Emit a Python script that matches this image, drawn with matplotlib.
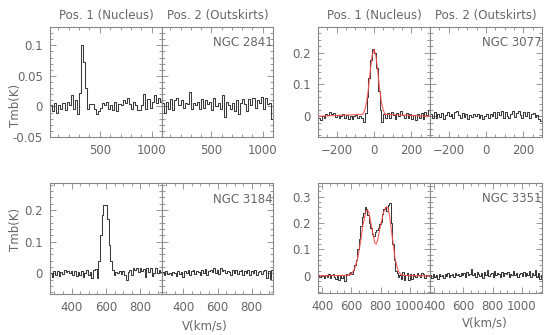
import matplotlib
matplotlib.use('Agg')
import matplotlib.pyplot as plt
import numpy as np
from matplotlib.ticker import MultipleLocator, FuncFormatter

# NGC 2841, channels 30..1090 km/s every 20
v_2841 = np.arange(30, 1091, 20)
n2841_nuc = [0.002, -0.008, 0.005, -0.010, 0.003, -0.004, 0.006, -0.006, 0.008, 0.002,
             0.018, -0.004, 0.010, -0.012, 0.022, 0.100, 0.072, 0.030, -0.005, 0.004,
             0.004, -0.004, -0.012, -0.008, -0.003, 0.006, 0.003, 0.008, -0.004, 0.002,
             -0.006, 0.008, -0.008, 0.004, 0.002, 0.010, 0.006, 0.014, 0.004, -0.004,
             0.008, 0.002, -0.006, -0.006, 0.002, 0.020, -0.004, 0.012, -0.002, 0.008,
             0.018, 0.006, 0.014, 0.008]
n2841_out = [0.005, -0.010, 0.008, -0.004, 0.012, -0.006, 0.010, 0.014, 0.002, 0.010,
             -0.002, 0.006, 0.004, 0.024, -0.004, 0.006, 0.002, 0.008, -0.004, 0.012,
             -0.002, 0.010, 0.004, 0.008, -0.006, 0.014, 0.000, 0.006, -0.004, 0.018,
             -0.018, 0.008, 0.002, -0.004, 0.006, -0.008, 0.010, -0.012, 0.006, 0.012,
             0.004, -0.008, 0.012, 0.002, 0.014, -0.002, 0.010, 0.006, 0.016, -0.004,
             0.014, 0.004, 0.006, -0.020]

# NGC 3077, channels -295..295 every 10
v_3077 = np.arange(-295, 296, 10)
n3077_nuc = [-0.004, -0.012, 0.002, -0.006, 0.008, 0.004, 0.014, 0.006, 0.010, -0.002,
             0.004, -0.006, 0.002, 0.006, -0.004, 0.004, -0.008, 0.002, -0.010, 0.000,
             0.004, -0.006, 0.002, -0.004, -0.018, 0.010, 0.060, 0.120, 0.175, 0.212,
             0.200, 0.150, 0.080, 0.020, -0.018, 0.006, -0.004, 0.010, -0.006, 0.012,
             0.004, -0.008, 0.010, 0.000, 0.018, 0.004, -0.004, 0.010, -0.006, 0.008,
             -0.010, 0.004, -0.012, 0.006, -0.004, 0.010, -0.008, 0.014, 0.004, 0.020]
n3077_out = [0.008, -0.004, 0.012, -0.006, 0.006, -0.002, 0.010, -0.008, 0.004, 0.014,
             0.002, 0.008, -0.004, 0.012, 0.018, 0.004, -0.006, 0.010, -0.002, 0.006,
             -0.010, 0.004, -0.002, 0.008, 0.000, 0.006, -0.006, 0.004, -0.008, 0.002,
             0.006, -0.004, 0.008, 0.002, 0.012, -0.004, 0.014, 0.004, 0.016, -0.006,
             0.012, 0.002, -0.004, 0.008, 0.016, -0.002, 0.010, 0.018, 0.004, -0.004,
             0.012, 0.002, 0.014, -0.006, 0.006, 0.010, -0.002, 0.004, -0.008, -0.014]
fit3077_v = [-300, -60, -50, -40, -30, -20, -10, 0, 10, 20, 30, 40, 50, 60, 300]
fit3077_t = [0.0, 0.006, 0.018, 0.043, 0.086, 0.142, 0.190, 0.210, 0.190, 0.142,
             0.086, 0.043, 0.018, 0.006, 0.0]

# NGC 3184, channels 280..920 every 10
v_3184 = np.arange(280, 921, 10)
n3184_nuc = [0.002, -0.010, 0.008, -0.004, 0.006, -0.008, 0.004, -0.002, 0.010, 0.004,
             0.008, 0.002, 0.006, -0.004, 0.008, -0.008, 0.004, -0.006, 0.006, -0.012,
             0.002, 0.010, -0.006, 0.004, -0.016, 0.012, 0.014, -0.016, 0.040, 0.120,
             0.185, 0.215, 0.215, 0.170, 0.090, 0.040, 0.010, -0.004, 0.004, 0.000,
             0.006, -0.002, 0.006, -0.004, -0.020, 0.004, 0.010, -0.006, 0.016, 0.012,
             0.016, 0.004, 0.018, 0.008, 0.014, -0.010, 0.018, 0.004, 0.016, -0.008,
             0.002, 0.018, 0.000, 0.010, 0.004]
n3184_out = [0.004, -0.006, 0.008, -0.002, 0.002, -0.006, 0.004, 0.000, -0.008, 0.006,
             -0.002, 0.004, -0.010, 0.006, 0.002, 0.010, -0.004, 0.006, 0.012, -0.002,
             0.008, 0.004, -0.006, 0.010, 0.002, 0.014, -0.004, 0.008, 0.012, 0.004,
             0.016, 0.002, 0.010, -0.002, 0.018, 0.006, 0.012, 0.000, 0.008, 0.004,
             -0.004, 0.010, 0.002, 0.012, -0.002, 0.006, 0.010, -0.004, 0.008, 0.000,
             0.012, -0.006, 0.006, 0.002, 0.010, -0.004, 0.004, 0.008, -0.002, 0.006,
             0.012, -0.016, 0.008, -0.018, 0.010]

# NGC 3351, channels 375..1135 every 10
v_3351 = np.arange(375, 1136, 10)
n3351_nuc = [0.004, -0.006, 0.002, 0.000, -0.008, 0.004, -0.004, 0.006, -0.010, 0.002,
             0.006, -0.006, -0.012, 0.002, -0.016, 0.004, -0.008, 0.000, -0.018, 0.006,
             0.004, 0.010, 0.016, 0.008, 0.022, 0.040, 0.060, 0.100, 0.140, 0.190,
             0.225, 0.240, 0.262, 0.255, 0.230, 0.200, 0.180, 0.160, 0.150, 0.165,
             0.175, 0.180, 0.195, 0.205, 0.235, 0.255, 0.262, 0.245, 0.270, 0.275,
             0.200, 0.120, 0.060, 0.020, 0.012, -0.006, 0.004, -0.012, 0.016, -0.014,
             0.002, 0.010, -0.016, 0.008, -0.012, 0.006, 0.000, -0.006, 0.010, 0.004,
             -0.004, 0.012, 0.006, -0.008, 0.002, 0.004, -0.002]
n3351_out = [0.004, -0.010, 0.006, -0.004, 0.002, -0.012, 0.008, -0.002, 0.004, -0.008,
             0.006, 0.000, 0.010, -0.006, 0.004, 0.008, -0.004, 0.012, 0.002, 0.006,
             -0.002, 0.010, 0.004, 0.012, -0.006, 0.014, 0.002, 0.008, 0.026, 0.004,
             0.010, -0.004, 0.014, 0.006, 0.000, 0.012, -0.008, 0.016, 0.004, 0.022,
             -0.002, 0.008, 0.010, -0.004, 0.018, 0.002, 0.012, 0.006, -0.004, 0.016,
             0.000, 0.010, 0.006, 0.014, -0.006, 0.008, 0.004, 0.020, 0.002, 0.010,
             -0.004, 0.008, 0.012, 0.000, 0.016, -0.002, 0.010, 0.004, 0.018, -0.006,
             0.012, 0.002, 0.022, -0.004, 0.010, -0.012, 0.004]
fit3351_v = [370, 580, 600, 620, 640, 660, 680, 700, 710, 720, 740, 760, 770, 780,
             800, 820, 840, 850, 860, 880, 900, 920, 940, 960, 1140]
fit3351_t = [0.0, 0.002, 0.008, 0.025, 0.060, 0.120, 0.195, 0.245, 0.250, 0.240,
             0.180, 0.125, 0.120, 0.135, 0.190, 0.240, 0.262, 0.258, 0.235, 0.150,
             0.065, 0.020, 0.005, 0.001, 0.0]

FRAME = '#888888'
TXT = '#666666'
LINE = '#3a3a3a'
RED = '#ff4a4a'
FS = 8.5

W, H = 550, 335


def px_axes(fig, x0, x1, y0, y1):
    # pixel box (top-left origin) -> figure fraction
    return fig.add_axes([x0 / W, (H - y1) / H, (x1 - x0) / W, (y1 - y0) / H])


def style(ax, xlim, ylim, xmaj, xmin, ymaj, ymin, ylabels):
    ax.set_xlim(*xlim)
    ax.set_ylim(*ylim)
    ax.xaxis.set_major_locator(MultipleLocator(xmaj))
    ax.xaxis.set_minor_locator(MultipleLocator(xmin))
    ax.yaxis.set_major_locator(MultipleLocator(ymaj))
    ax.yaxis.set_minor_locator(MultipleLocator(ymin))
    ax.yaxis.set_major_formatter(FuncFormatter(lambda v, p: '%g' % round(v, 3)))
    ax.tick_params(which='both', direction='in', top=True, right=True,
                   color=FRAME, labelcolor=TXT, labelsize=FS, width=0.6)
    ax.tick_params(which='major', length=4.5, pad=5)
    ax.tick_params(which='minor', length=2.5)
    if not ylabels:
        ax.tick_params(labelleft=False)
    for s in ax.spines.values():
        s.set_color(FRAME)
        s.set_linewidth(0.8)


def main():
    fig = plt.figure(figsize=(5.5, 3.35), dpi=100)

    groups = [
        dict(xs=(50, 162, 273), ys=(27, 137), v=v_2841, nuc=n2841_nuc, out=n2841_out,
             xlim=(20, 1100), ylim=(-0.0501, 0.13), xt=(500, 100), yt=(0.05, 0.01),
             name='NGC 2841', fit=None, top=True),
        dict(xs=(318, 430, 542), ys=(27, 137), v=v_3077, nuc=n3077_nuc, out=n3077_out,
             xlim=(-300, 300), ylim=(-0.065, 0.28), xt=(200, 50), yt=(0.1, 0.02),
             name='NGC 3077', fit=(fit3077_v, fit3077_t), top=True),
        dict(xs=(50, 162, 273), ys=(183, 294), v=v_3184, nuc=n3184_nuc, out=n3184_out,
             xlim=(275, 925), ylim=(-0.065, 0.285), xt=(200, 50), yt=(0.1, 0.02),
             name='NGC 3184', fit=None, top=False),
        dict(xs=(318, 430, 542), ys=(183, 293), v=v_3351, nuc=n3351_nuc, out=n3351_out,
             xlim=(370, 1140), ylim=(-0.065, 0.352), xt=(200, 50), yt=(0.1, 0.02),
             name='NGC 3351', fit=(fit3351_v, fit3351_t), top=False),
    ]

    for g in groups:
        x0, xm, x1 = g['xs']
        y0, y1 = g['ys']
        ax1 = px_axes(fig, x0, xm, y0, y1)
        ax2 = px_axes(fig, xm, x1, y0, y1)
        for ax, data, lab in [(ax1, g['nuc'], True), (ax2, g['out'], False)]:
            ax.step(g['v'], data, where='mid', color=LINE, lw=0.75)
            style(ax, g['xlim'], g['ylim'], *g['xt'], *g['yt'], lab)
        if g['fit'] is not None:
            ax1.plot(g['fit'][0], g['fit'][1], color=RED, lw=0.8, alpha=0.9)
        ax2.text(0.995, 0.855, g['name'], transform=ax2.transAxes, ha='right',
                 va='center', fontsize=FS, color=TXT)
        if g['top']:
            ax1.set_title('Pos. 1 (Nucleus)', fontsize=FS, color=TXT, pad=6)
            ax2.set_title('Pos. 2 (Outskirts)', fontsize=FS, color=TXT, pad=6)

    # axis labels placed by hand like the original
    fig.text(16 / W, 1 - 105 / H, 'Tmb(K)', rotation=90, ha='center', va='center',
             fontsize=FS, color=TXT)
    fig.text(16 / W, 1 - 229 / H, 'Tmb(K)', rotation=90, ha='center', va='center',
             fontsize=FS, color=TXT)
    fig.text(205 / W, 1 - 326 / H, 'V(km/s)', ha='center', va='center',
             fontsize=FS, color=TXT)
    fig.text(485 / W, 1 - 323 / H, 'V(km/s)', ha='center', va='center',
             fontsize=FS, color=TXT)

    fig.savefig('out.png', dpi=100)


if __name__ == '__main__':
    main()
